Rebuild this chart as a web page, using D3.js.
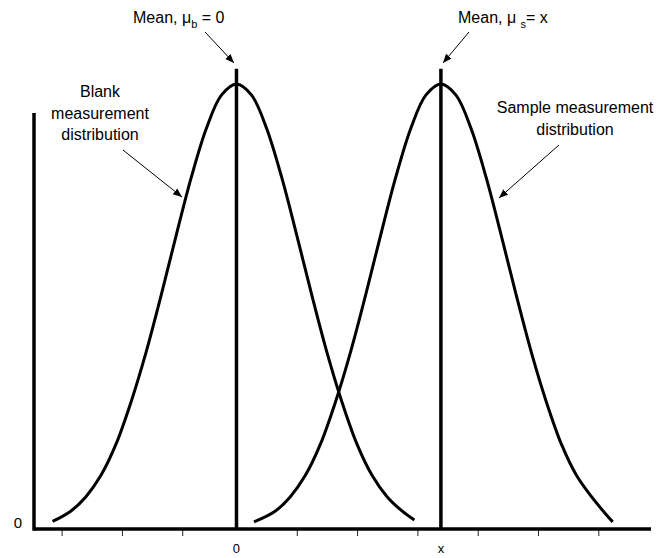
<!DOCTYPE html>
<html>
<head>
<meta charset="utf-8">
<script src="https://cdn.jsdelivr.net/npm/d3@7"></script>
<style>
  html, body { margin: 0; padding: 0; background: #fff; }
  text { font-family: "Liberation Sans", Arial, Helvetica, sans-serif; fill: #000; }
</style>
</head>
<body>
<svg id="chart" width="665" height="558"></svg>
<script>
// ---- data ----
const blankMean = 0;
const sampleMean = 3.39;
const blankX = [-3.05, -2.75, -2.5, -2.25, -2.0, -1.75, -1.5, -1.25, -1.0, -0.75, -0.5, -0.25, 0,
                0.25, 0.5, 0.75, 1.0, 1.25, 1.5, 1.75, 2.0, 2.25, 2.5, 2.75, 2.95];
const blankY = [0.017, 0.040, 0.072, 0.120, 0.190, 0.285, 0.397, 0.525, 0.660, 0.790, 0.900, 0.975, 1.0,
                0.975, 0.900, 0.790, 0.660, 0.525, 0.397, 0.285, 0.190, 0.120, 0.072, 0.040, 0.020];
const sampleX = [0.29, 0.64, 0.89, 1.14, 1.39, 1.64, 1.89, 2.14, 2.39, 2.64, 2.89, 3.14, 3.39,
                 3.64, 3.89, 4.14, 4.39, 4.64, 4.89, 5.14, 5.39, 5.64, 5.89, 6.14, 6.24];
const sampleY = [0.016, 0.040, 0.072, 0.120, 0.190, 0.285, 0.397, 0.525, 0.660, 0.790, 0.900, 0.975, 1.0,
                 0.975, 0.900, 0.790, 0.660, 0.525, 0.397, 0.285, 0.190, 0.120, 0.072, 0.031, 0.016];
const xTickValues = [-2.9, -1.9, -0.9, 1, 2, 3, 4, 5, 6];
const xLabelValues = [0, 3.39];
const xLabelTexts = ["0", "x"];
const yLabelTexts = ["0"];

// ---- scales ----
const svg = d3.select("#chart");
const x = d3.scaleLinear().domain([-3.358, 6.874]).range([34, 651]);
const y = d3.scaleLinear().domain([0, 1]).range([529, 84]);
const yAxisTop = 0.935;
const meanTop = 1.034;

// arrow marker
svg.append("defs").append("marker")
  .attr("id", "arrow").attr("viewBox", "0 0 10 10")
  .attr("refX", 10).attr("refY", 5)
  .attr("markerWidth", 9).attr("markerHeight", 9)
  .attr("markerUnits", "userSpaceOnUse")
  .attr("orient", "auto")
  .append("path").attr("d", "M0,1 L10,5 L0,9 Z").attr("fill", "#000");

// x axis ticks
const xAxis = d3.axisBottom(x).tickValues(xTickValues).tickSize(7).tickFormat("");
const gx = svg.append("g").attr("transform", `translate(0,${y(0)})`).call(xAxis);
gx.select(".domain").remove();
gx.selectAll(".tick line").attr("stroke", "#222").attr("stroke-width", 1);

// axis lines
svg.append("line").attr("x1", x.range()[0]).attr("x2", x.range()[1])
  .attr("y1", y(0)).attr("y2", y(0)).attr("stroke", "#000").attr("stroke-width", 3.5);
svg.append("line").attr("x1", x.range()[0]).attr("x2", x.range()[0])
  .attr("y1", y(yAxisTop)).attr("y2", y(0) + 1.75).attr("stroke", "#000").attr("stroke-width", 3.5);

// curves
const line = d3.line().x(d => x(d[0])).y(d => y(d[1])).curve(d3.curveCatmullRom);
svg.append("path").datum(blankX.map((v, i) => [v, blankY[i]]))
  .attr("d", line).attr("fill", "none").attr("stroke", "#000").attr("stroke-width", 3);
svg.append("path").datum(sampleX.map((v, i) => [v, sampleY[i]]))
  .attr("d", line).attr("fill", "none").attr("stroke", "#000").attr("stroke-width", 3);

// mean lines
[blankMean, sampleMean].forEach(m => {
  svg.append("line").attr("x1", x(m)).attr("x2", x(m))
    .attr("y1", y(meanTop)).attr("y2", y(0))
    .attr("stroke", "#000").attr("stroke-width", 3.5);
});

// tick labels
xLabelValues.forEach((v, i) => {
  svg.append("text").attr("x", x(v)).attr("y", 553).attr("text-anchor", "middle")
    .attr("font-size", 13).text(xLabelTexts[i]);
});
svg.append("text").attr("x", 18).attr("y", y(0) - 1).attr("text-anchor", "middle")
  .attr("font-size", 15).text(yLabelTexts[0]);

const fs = 16;
// top labels
const t1 = svg.append("text").attr("x", 133).attr("y", 23).attr("font-size", fs);
t1.append("tspan").text("Mean, \u03bc");
t1.append("tspan").attr("font-size", 11).attr("dy", 5).text("b");
t1.append("tspan").attr("dy", -5).text(" = 0");

const t2 = svg.append("text").attr("x", 458).attr("y", 23).attr("font-size", fs);
t2.append("tspan").text("Mean, \u03bc ");
t2.append("tspan").attr("font-size", 11).attr("dy", 5).text("s");
t2.append("tspan").attr("dy", -5).text("= x");

// side annotations
const ann1 = svg.append("text").attr("text-anchor", "middle").attr("font-size", fs);
["Blank", "measurement", "distribution"].forEach((s, i) => {
  ann1.append("tspan").attr("x", 100).attr("y", 97 + i * 21.5).text(s);
});
const ann2 = svg.append("text").attr("text-anchor", "middle").attr("font-size", fs);
["Sample measurement", "distribution"].forEach((s, i) => {
  ann2.append("tspan").attr("x", 575).attr("y", 113 + i * 21.5).text(s);
});

// arrows
const arrows = [
  [205, 32, 234, 63],
  [469, 32, 443, 63],
  [123, 150, 182, 197],
  [559, 145, 499, 198]
];
arrows.forEach(a => {
  svg.append("line").attr("x1", a[0]).attr("y1", a[1]).attr("x2", a[2]).attr("y2", a[3])
    .attr("stroke", "#000").attr("stroke-width", 1).attr("marker-end", "url(#arrow)");
});
</script>
</body>
</html>
